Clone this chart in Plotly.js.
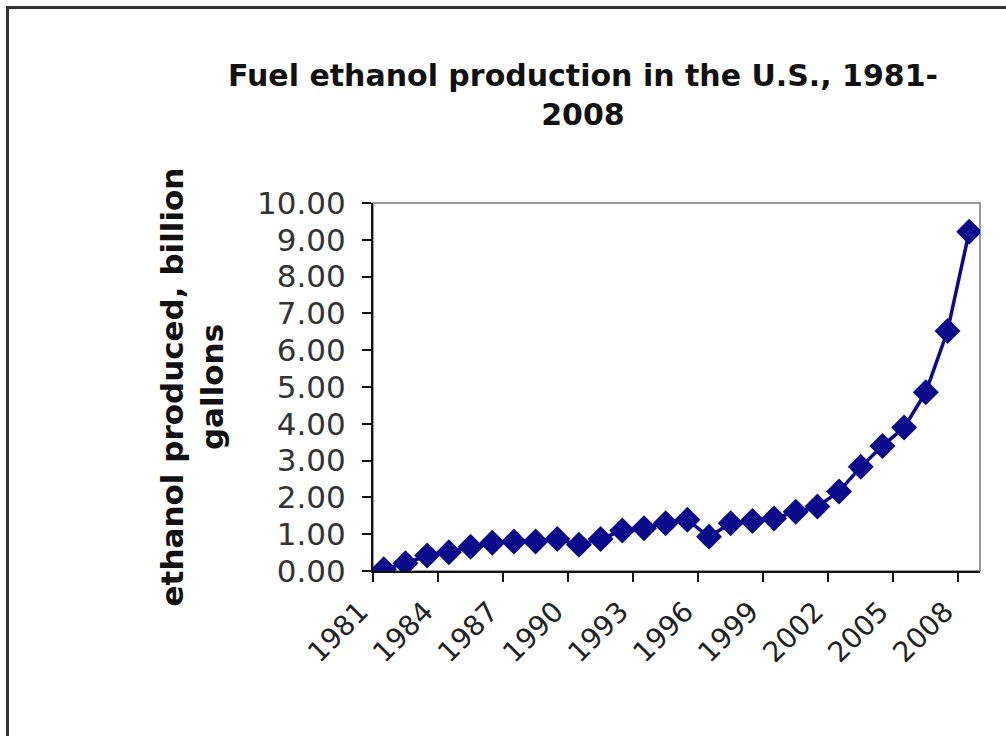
<!DOCTYPE html>
<html>
<head>
<meta charset="utf-8">
<script src="https://cdn.plot.ly/plotly-3.0.1.min.js"></script>
<style>
  html, body { margin: 0; padding: 0; background: #fff; }
  #wrap { position: relative; width: 1006px; height: 736px; overflow: hidden; }
  #chart { position: absolute; left: 0; top: 0; width: 1006px; height: 736px; }
  #frame { position: absolute; left: 6px; top: 6px; width: 1100px; height: 800px;
           border-top: 3px solid #333; border-left: 3px solid #333; pointer-events: none; }
</style>
</head>
<body>
<div id="wrap">
  <div id="chart"></div>
  <div id="frame"></div>
</div>
<script>
// Data
const years = [1981, 1982, 1983, 1984, 1985, 1986, 1987, 1988, 1989, 1990,
               1991, 1992, 1993, 1994, 1995, 1996, 1997, 1998, 1999, 2000,
               2001, 2002, 2003, 2004, 2005, 2006, 2007, 2008];
const production = [0.05, 0.21, 0.42, 0.51, 0.66, 0.77, 0.80, 0.80, 0.87, 0.71,
                    0.87, 1.10, 1.16, 1.30, 1.39, 0.93, 1.30, 1.36, 1.43, 1.61,
                    1.75, 2.16, 2.83, 3.40, 3.90, 4.86, 6.52, 9.22];
const tickLabels = ["1981", "1984", "1987", "1990", "1993", "1996", "1999", "2002", "2005", "2008"];

// Excel-style category axis: ticks sit on category boundaries
const tickPositions = tickLabels.map(t => Number(t) - 0.5);

const navy = '#0a0a8a';

const trace = {
  x: years,
  y: production,
  type: 'scatter',
  mode: 'lines+markers',
  line: { color: navy, width: 3.5 },
  marker: { symbol: 'diamond', size: 20, color: navy },
  hoverinfo: 'x+y'
};

const layout = {
  width: 1006,
  height: 736,
  margin: { l: 373, r: 26, t: 203, b: 165, pad: 0 },
  paper_bgcolor: '#ffffff',
  plot_bgcolor: '#ffffff',
  showlegend: false,
  font: { family: 'DejaVu Sans, Verdana, sans-serif', color: '#222' },
  title: {
    text: 'Fuel ethanol production in the U.S., 1981-<br>2008',
    font: { family: 'DejaVu Sans, Verdana, sans-serif', size: 30, color: '#111', weight: 'bold' },
    x: 583 / 1006,
    xref: 'container',
    xanchor: 'center',
    y: 1 - 86 / 736,
    yref: 'container',
    yanchor: 'top'
  },
  xaxis: {
    range: [1980.5, 2008.5],
    tickmode: 'array',
    tickvals: tickPositions,
    ticktext: tickLabels,
    tickangle: -45,
    ticks: 'outside',
    ticklen: 9,
    tickwidth: 2,
    tickcolor: '#111',
    ticklabelshift: -13,
    ticklabelstandoff: 2,
    showline: true,
    linecolor: '#111',
    linewidth: 2,
    showgrid: false,
    zeroline: false,
    tickfont: { size: 28, color: '#222' },
    fixedrange: true
  },
  yaxis: {
    range: [0, 10],
    tickmode: 'linear',
    tick0: 0,
    dtick: 1,
    tickformat: '.2f',
    ticks: 'outside',
    ticklen: 9,
    tickwidth: 2,
    tickcolor: '#111',
    ticklabelstandoff: 10,
    showline: true,
    linecolor: '#111',
    linewidth: 2,
    showgrid: false,
    zeroline: false,
    tickfont: { size: 31, color: '#333' },
    title: {
      text: 'ethanol produced, billion<br>gallons',
      font: { size: 31, color: '#111', weight: 'bold' },
      standoff: 24
    },
    automargin: false,
    fixedrange: true
  },
  shapes: [
    {
      type: 'rect', xref: 'paper', yref: 'paper',
      x0: 0, x1: 1, y0: 0, y1: 1,
      line: { color: '#999', width: 2 },
      layer: 'below'
    }
  ]
};

Plotly.newPlot('chart', [trace], layout, { displayModeBar: false, staticPlot: true });
</script>
</body>
</html>
